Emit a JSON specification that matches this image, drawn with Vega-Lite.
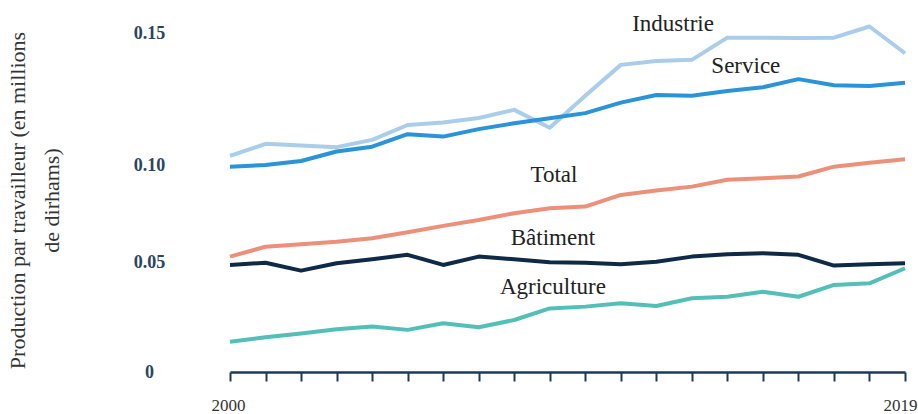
{
  "$schema": "https://vega.github.io/schema/vega-lite/v6.json",
  "width": 675,
  "height": 351,
  "autosize": {"type": "none"},
  "padding": {"left": 230, "top": 21, "right": 13, "bottom": 42},
  "background": "white",
  "config": {"view": {"stroke": null}},
  "datasets": {
    "series": [
      {"serie": "Industrie", "annee": 2000, "valeur": 0.0985},
      {"serie": "Industrie", "annee": 2001, "valeur": 0.1040},
      {"serie": "Industrie", "annee": 2002, "valeur": 0.1032},
      {"serie": "Industrie", "annee": 2003, "valeur": 0.1025},
      {"serie": "Industrie", "annee": 2004, "valeur": 0.1058},
      {"serie": "Industrie", "annee": 2005, "valeur": 0.1126},
      {"serie": "Industrie", "annee": 2006, "valeur": 0.1137},
      {"serie": "Industrie", "annee": 2007, "valeur": 0.1158},
      {"serie": "Industrie", "annee": 2008, "valeur": 0.1195},
      {"serie": "Industrie", "annee": 2009, "valeur": 0.1113},
      {"serie": "Industrie", "annee": 2010, "valeur": 0.1259},
      {"serie": "Industrie", "annee": 2011, "valeur": 0.1400},
      {"serie": "Industrie", "annee": 2012, "valeur": 0.1418},
      {"serie": "Industrie", "annee": 2013, "valeur": 0.1423},
      {"serie": "Industrie", "annee": 2014, "valeur": 0.1524},
      {"serie": "Industrie", "annee": 2015, "valeur": 0.1524},
      {"serie": "Industrie", "annee": 2016, "valeur": 0.1522},
      {"serie": "Industrie", "annee": 2017, "valeur": 0.1524},
      {"serie": "Industrie", "annee": 2018, "valeur": 0.1575},
      {"serie": "Industrie", "annee": 2019, "valeur": 0.1453},
      {"serie": "Service", "annee": 2000, "valeur": 0.0936},
      {"serie": "Service", "annee": 2001, "valeur": 0.0944},
      {"serie": "Service", "annee": 2002, "valeur": 0.0962},
      {"serie": "Service", "annee": 2003, "valeur": 0.1005},
      {"serie": "Service", "annee": 2004, "valeur": 0.1027},
      {"serie": "Service", "annee": 2005, "valeur": 0.1084},
      {"serie": "Service", "annee": 2006, "valeur": 0.1073},
      {"serie": "Service", "annee": 2007, "valeur": 0.1107},
      {"serie": "Service", "annee": 2008, "valeur": 0.1134},
      {"serie": "Service", "annee": 2009, "valeur": 0.1157},
      {"serie": "Service", "annee": 2010, "valeur": 0.1180},
      {"serie": "Service", "annee": 2011, "valeur": 0.1228},
      {"serie": "Service", "annee": 2012, "valeur": 0.1263},
      {"serie": "Service", "annee": 2013, "valeur": 0.1259},
      {"serie": "Service", "annee": 2014, "valeur": 0.1281},
      {"serie": "Service", "annee": 2015, "valeur": 0.1298},
      {"serie": "Service", "annee": 2016, "valeur": 0.1335},
      {"serie": "Service", "annee": 2017, "valeur": 0.1307},
      {"serie": "Service", "annee": 2018, "valeur": 0.1304},
      {"serie": "Service", "annee": 2019, "valeur": 0.1319},
      {"serie": "Total", "annee": 2000, "valeur": 0.0526},
      {"serie": "Total", "annee": 2001, "valeur": 0.0571},
      {"serie": "Total", "annee": 2002, "valeur": 0.0582},
      {"serie": "Total", "annee": 2003, "valeur": 0.0594},
      {"serie": "Total", "annee": 2004, "valeur": 0.0610},
      {"serie": "Total", "annee": 2005, "valeur": 0.0637},
      {"serie": "Total", "annee": 2006, "valeur": 0.0666},
      {"serie": "Total", "annee": 2007, "valeur": 0.0693},
      {"serie": "Total", "annee": 2008, "valeur": 0.0724},
      {"serie": "Total", "annee": 2009, "valeur": 0.0746},
      {"serie": "Total", "annee": 2010, "valeur": 0.0754},
      {"serie": "Total", "annee": 2011, "valeur": 0.0807},
      {"serie": "Total", "annee": 2012, "valeur": 0.0827},
      {"serie": "Total", "annee": 2013, "valeur": 0.0845},
      {"serie": "Total", "annee": 2014, "valeur": 0.0876},
      {"serie": "Total", "annee": 2015, "valeur": 0.0883},
      {"serie": "Total", "annee": 2016, "valeur": 0.0891},
      {"serie": "Total", "annee": 2017, "valeur": 0.0936},
      {"serie": "Total", "annee": 2018, "valeur": 0.0954},
      {"serie": "Total", "annee": 2019, "valeur": 0.0970},
      {"serie": "Bâtiment", "annee": 2000, "valeur": 0.0488},
      {"serie": "Bâtiment", "annee": 2001, "valeur": 0.0498},
      {"serie": "Bâtiment", "annee": 2002, "valeur": 0.0462},
      {"serie": "Bâtiment", "annee": 2003, "valeur": 0.0496},
      {"serie": "Bâtiment", "annee": 2004, "valeur": 0.0514},
      {"serie": "Bâtiment", "annee": 2005, "valeur": 0.0534},
      {"serie": "Bâtiment", "annee": 2006, "valeur": 0.0488},
      {"serie": "Bâtiment", "annee": 2007, "valeur": 0.0526},
      {"serie": "Bâtiment", "annee": 2008, "valeur": 0.0514},
      {"serie": "Bâtiment", "annee": 2009, "valeur": 0.0500},
      {"serie": "Bâtiment", "annee": 2010, "valeur": 0.0498},
      {"serie": "Bâtiment", "annee": 2011, "valeur": 0.0491},
      {"serie": "Bâtiment", "annee": 2012, "valeur": 0.0503},
      {"serie": "Bâtiment", "annee": 2013, "valeur": 0.0526},
      {"serie": "Bâtiment", "annee": 2014, "valeur": 0.0537},
      {"serie": "Bâtiment", "annee": 2015, "valeur": 0.0541},
      {"serie": "Bâtiment", "annee": 2016, "valeur": 0.0534},
      {"serie": "Bâtiment", "annee": 2017, "valeur": 0.0485},
      {"serie": "Bâtiment", "annee": 2018, "valeur": 0.0491},
      {"serie": "Bâtiment", "annee": 2019, "valeur": 0.0496},
      {"serie": "Agriculture", "annee": 2000, "valeur": 0.0138},
      {"serie": "Agriculture", "annee": 2001, "valeur": 0.0158},
      {"serie": "Agriculture", "annee": 2002, "valeur": 0.0176},
      {"serie": "Agriculture", "annee": 2003, "valeur": 0.0195},
      {"serie": "Agriculture", "annee": 2004, "valeur": 0.0207},
      {"serie": "Agriculture", "annee": 2005, "valeur": 0.0192},
      {"serie": "Agriculture", "annee": 2006, "valeur": 0.0222},
      {"serie": "Agriculture", "annee": 2007, "valeur": 0.0204},
      {"serie": "Agriculture", "annee": 2008, "valeur": 0.0237},
      {"serie": "Agriculture", "annee": 2009, "valeur": 0.0290},
      {"serie": "Agriculture", "annee": 2010, "valeur": 0.0298},
      {"serie": "Agriculture", "annee": 2011, "valeur": 0.0313},
      {"serie": "Agriculture", "annee": 2012, "valeur": 0.0301},
      {"serie": "Agriculture", "annee": 2013, "valeur": 0.0336},
      {"serie": "Agriculture", "annee": 2014, "valeur": 0.0343},
      {"serie": "Agriculture", "annee": 2015, "valeur": 0.0366},
      {"serie": "Agriculture", "annee": 2016, "valeur": 0.0343},
      {"serie": "Agriculture", "annee": 2017, "valeur": 0.0397},
      {"serie": "Agriculture", "annee": 2018, "valeur": 0.0404},
      {"serie": "Agriculture", "annee": 2019, "valeur": 0.0473}
    ],
    "etiquettes": [
      {"serie": "Industrie", "annee": 2012.47, "valeur": 0.1587},
      {"serie": "Service", "annee": 2014.52, "valeur": 0.1395},
      {"serie": "Total", "annee": 2009.12, "valeur": 0.0898},
      {"serie": "Bâtiment", "annee": 2009.09, "valeur": 0.0611},
      {"serie": "Agriculture", "annee": 2009.09, "valeur": 0.0388}
    ]
  },
  "encoding": {
    "x": {
      "field": "annee",
      "type": "quantitative",
      "scale": {"domain": [2000, 2019], "nice": false, "zero": false},
      "axis": {
        "values": [2000, 2001, 2002, 2003, 2004, 2005, 2006, 2007, 2008, 2009, 2010, 2011, 2012, 2013, 2014, 2015, 2016, 2017, 2018, 2019],
        "format": "d",
        "labelExpr": "datum.value == 2000 || datum.value == 2019 ? datum.label : ''",
        "labelFlush": false,
        "labelOverlap": false,
        "labelOffset": {"condition": {"test": "datum.value == 2019", "value": -5}, "value": -2},
        "grid": false,
        "title": null,
        "domainColor": "#1f3a55",
        "domainWidth": 2.5,
        "tickColor": "#1f3a55",
        "tickWidth": 2,
        "tickSize": 9,
        "labelFont": "Liberation Serif",
        "labelFontSize": 17,
        "labelColor": "#333333",
        "labelPadding": 16
      }
    },
    "y": {
      "field": "valeur",
      "type": "quantitative",
      "scale": {"domain": [0, 0.16], "nice": false},
      "axis": {
        "values": [0, 0.05, 0.1, 0.15],
        "labelExpr": "datum.value == 0 ? '0' : format(datum.value, '.2f')",
        "domain": false,
        "ticks": false,
        "tickSize": 0,
        "grid": false,
        "labelAlign": "center",
        "labelBaseline": "middle",
        "labelPadding": 81,
        "labelOffset": {
          "condition": [
            {"test": "datum.value == 0.1", "value": 13},
            {"test": "datum.value == 0.15", "value": -9}
          ],
          "value": 0
        },
        "labelFont": "Liberation Serif",
        "labelFontSize": 18,
        "labelFontWeight": "bold",
        "labelColor": "#2b4560",
        "title": ["Production par travailleur (en millions", "de dirhams)"],
        "titleFont": "Liberation Serif",
        "titleFontSize": 22,
        "titleFontWeight": "normal",
        "titleColor": "#333333",
        "titleLineHeight": 34,
        "titleAngle": -90,
        "titleAlign": "center",
        "titleBaseline": "middle",
        "titleX": -213,
        "titleY": 179
      }
    },
    "color": {
      "field": "serie",
      "type": "nominal",
      "scale": {
        "domain": ["Industrie", "Service", "Total", "Bâtiment", "Agriculture"],
        "range": ["#a9cdea", "#2b93d8", "#ec9079", "#0e2a47", "#52c0b7"]
      },
      "legend": null
    }
  },
  "layer": [
    {
      "data": {"name": "series"},
      "mark": {"type": "line", "strokeWidth": 4, "strokeJoin": "round"}
    },
    {
      "data": {"name": "etiquettes"},
      "mark": {
        "type": "text",
        "font": "Liberation Serif",
        "fontSize": 23,
        "color": "#222222",
        "align": "center",
        "baseline": "middle"
      },
      "encoding": {
        "text": {"field": "serie"},
        "color": {"value": "#222222"}
      }
    }
  ]
}
